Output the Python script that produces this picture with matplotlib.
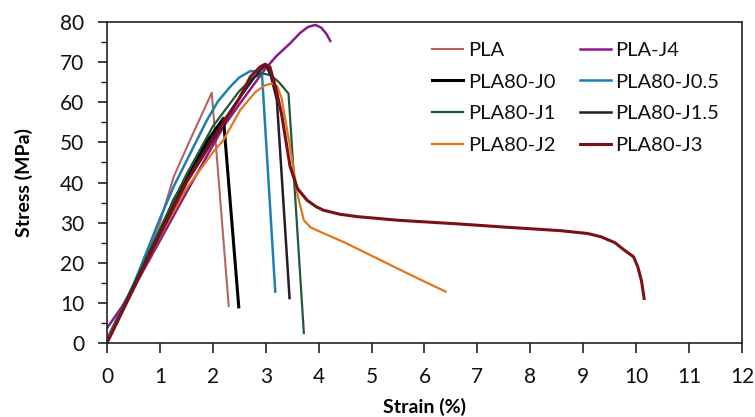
import matplotlib
matplotlib.use("Agg")
import matplotlib.pyplot as plt
from matplotlib.ticker import MultipleLocator

plt.rcParams['font.family'] = ['Lato', 'DejaVu Sans']

# ---- data (strain %, stress MPa) ----
pla_x = [0, 0.5, 1.0, 1.26, 1.57, 1.98, 2.30]
pla_y = [1.0, 14.5, 30.0, 41.4, 50.6, 62.4, 9.2]

j4_x = [0, 0.28, 0.6, 1.0, 1.5, 2.2, 2.5, 3.0, 3.2, 3.46, 3.65, 3.8, 3.94, 4.05, 4.15, 4.22]
j4_y = [3.7, 9.0, 16.0, 25.5, 37.5, 53.9, 59.5, 68.5, 71.5, 74.7, 77.3, 78.8, 79.3, 78.6, 77.0, 75.3]

j0_x = [0, 0.5, 1.0, 1.26, 1.5, 1.9, 2.2, 2.49]
j0_y = [0.5, 14.0, 27.5, 35.6, 41.0, 50.5, 56.0, 9.0]

j05_x = [0, 0.5, 1.0, 1.26, 1.89, 2.1, 2.33, 2.5, 2.71, 2.85, 2.93, 3.18]
j05_y = [1.0, 14.5, 31.0, 39.0, 55.6, 60.3, 63.9, 66.2, 67.8, 67.7, 66.8, 12.8]

j1_x = [0, 0.5, 1.0, 1.5, 2.0, 2.5, 2.75, 2.93, 3.09, 3.25, 3.43, 3.50, 3.72]
j1_y = [0.5, 14.5, 28.5, 42.0, 54.0, 62.8, 66.0, 67.2, 66.8, 65.0, 62.2, 48.1, 2.5]

j15_x = [0, 0.5, 1.0, 1.5, 2.0, 2.5, 2.8, 2.97, 3.02, 3.1, 3.21, 3.45]
j15_y = [0.5, 14.0, 27.5, 40.5, 51.5, 61.0, 66.5, 69.0, 68.9, 66.5, 60.6, 11.2]

j2_x = [0, 0.5, 1.0, 1.5, 2.0, 2.2, 2.52, 2.8, 2.98, 3.12, 3.22, 3.3, 3.46, 3.6, 3.72,
        3.85, 4.1, 4.5, 5.04, 5.67, 6.4]
j2_y = [0.5, 13.5, 26.5, 38.5, 47.5, 50.6, 58.1, 62.5, 64.2, 64.7, 64.0, 61.0, 48.9,
        37.0, 30.6, 28.8, 27.3, 25.0, 21.5, 17.4, 12.8]

j3_x = [0, 0.5, 1.0, 1.5, 2.0, 2.5, 2.71, 2.9, 2.99, 3.08, 3.2, 3.3, 3.46, 3.6, 3.78,
        3.95, 4.09, 4.4, 4.73, 5.5, 6.62, 7.5, 8.57, 9.08, 9.33, 9.6, 9.77, 9.95,
        10.03, 10.1, 10.15]
j3_y = [0, 13.5, 27.0, 40.0, 50.5, 61.0, 66.4, 68.9, 69.5, 68.8, 63.0, 57.0, 44.0,
        38.5, 35.6, 34.0, 33.1, 32.1, 31.5, 30.6, 29.7, 28.9, 28.0, 27.3, 26.5,
        25.0, 23.2, 21.5, 19.0, 15.5, 11.1]

series = [
    ("PLA", pla_x, pla_y, "#b56464", 1.5),
    ("PLA-J4", j4_x, j4_y, "#8b1a8b", 1.8),
    ("PLA80-J0", j0_x, j0_y, "#000000", 2.2),
    ("PLA80-J0.5", j05_x, j05_y, "#1f7fb5", 1.8),
    ("PLA80-J1", j1_x, j1_y, "#1d5a3c", 1.6),
    ("PLA80-J1.5", j15_x, j15_y, "#2a1a2c", 1.8),
    ("PLA80-J2", j2_x, j2_y, "#e0761e", 1.6),
    ("PLA80-J3", j3_x, j3_y, "#7a1018", 2.2),
]

fig = plt.figure(figsize=(7.55, 4.17), dpi=100)
ax = fig.add_axes([0.1417, 0.1775, 0.8411, 0.7695])

handles = {}
for name, xs, ys, c, lw in series:
    h, = ax.plot(xs, ys, color=c, lw=lw, label=name)
    handles[name] = h

ax.set_xlim(0, 12)
ax.set_ylim(0, 80)
ax.xaxis.set_major_locator(MultipleLocator(1))
ax.yaxis.set_major_locator(MultipleLocator(10))
ax.yaxis.set_minor_locator(MultipleLocator(5))
ax.tick_params(axis='both', which='major', labelsize=15, width=1.2,
               direction='out', colors='#222222', labelcolor='#111111')
ax.tick_params(axis='x', which='major', length=7, pad=10)
ax.tick_params(axis='y', which='major', length=6.5, pad=10)
ax.tick_params(axis='y', which='minor', length=4.5, width=1.0, direction='out', colors='#222222')
for sp in ax.spines.values():
    sp.set_color('#222222')
    sp.set_linewidth(1.2)

ax.set_xlabel("Strain (%)", fontsize=14, fontweight='bold', labelpad=8)
ax.set_ylabel("Stress (MPa)", fontsize=14, fontweight='bold', labelpad=19)

order = ["PLA", "PLA80-J0", "PLA80-J1", "PLA80-J2",
         "PLA-J4", "PLA80-J0.5", "PLA80-J1.5", "PLA80-J3"]
leg = ax.legend([handles[n] for n in order], order, ncol=2, loc='upper left',
                bbox_to_anchor=(0.484, 0.995), frameon=False,
                fontsize=14.5, handlelength=1.5, handletextpad=0.25, columnspacing=1.25,
                labelspacing=0.72)
for t in leg.get_texts():
    t.set_color('#111111')

fig.savefig("out.png", dpi=100)
